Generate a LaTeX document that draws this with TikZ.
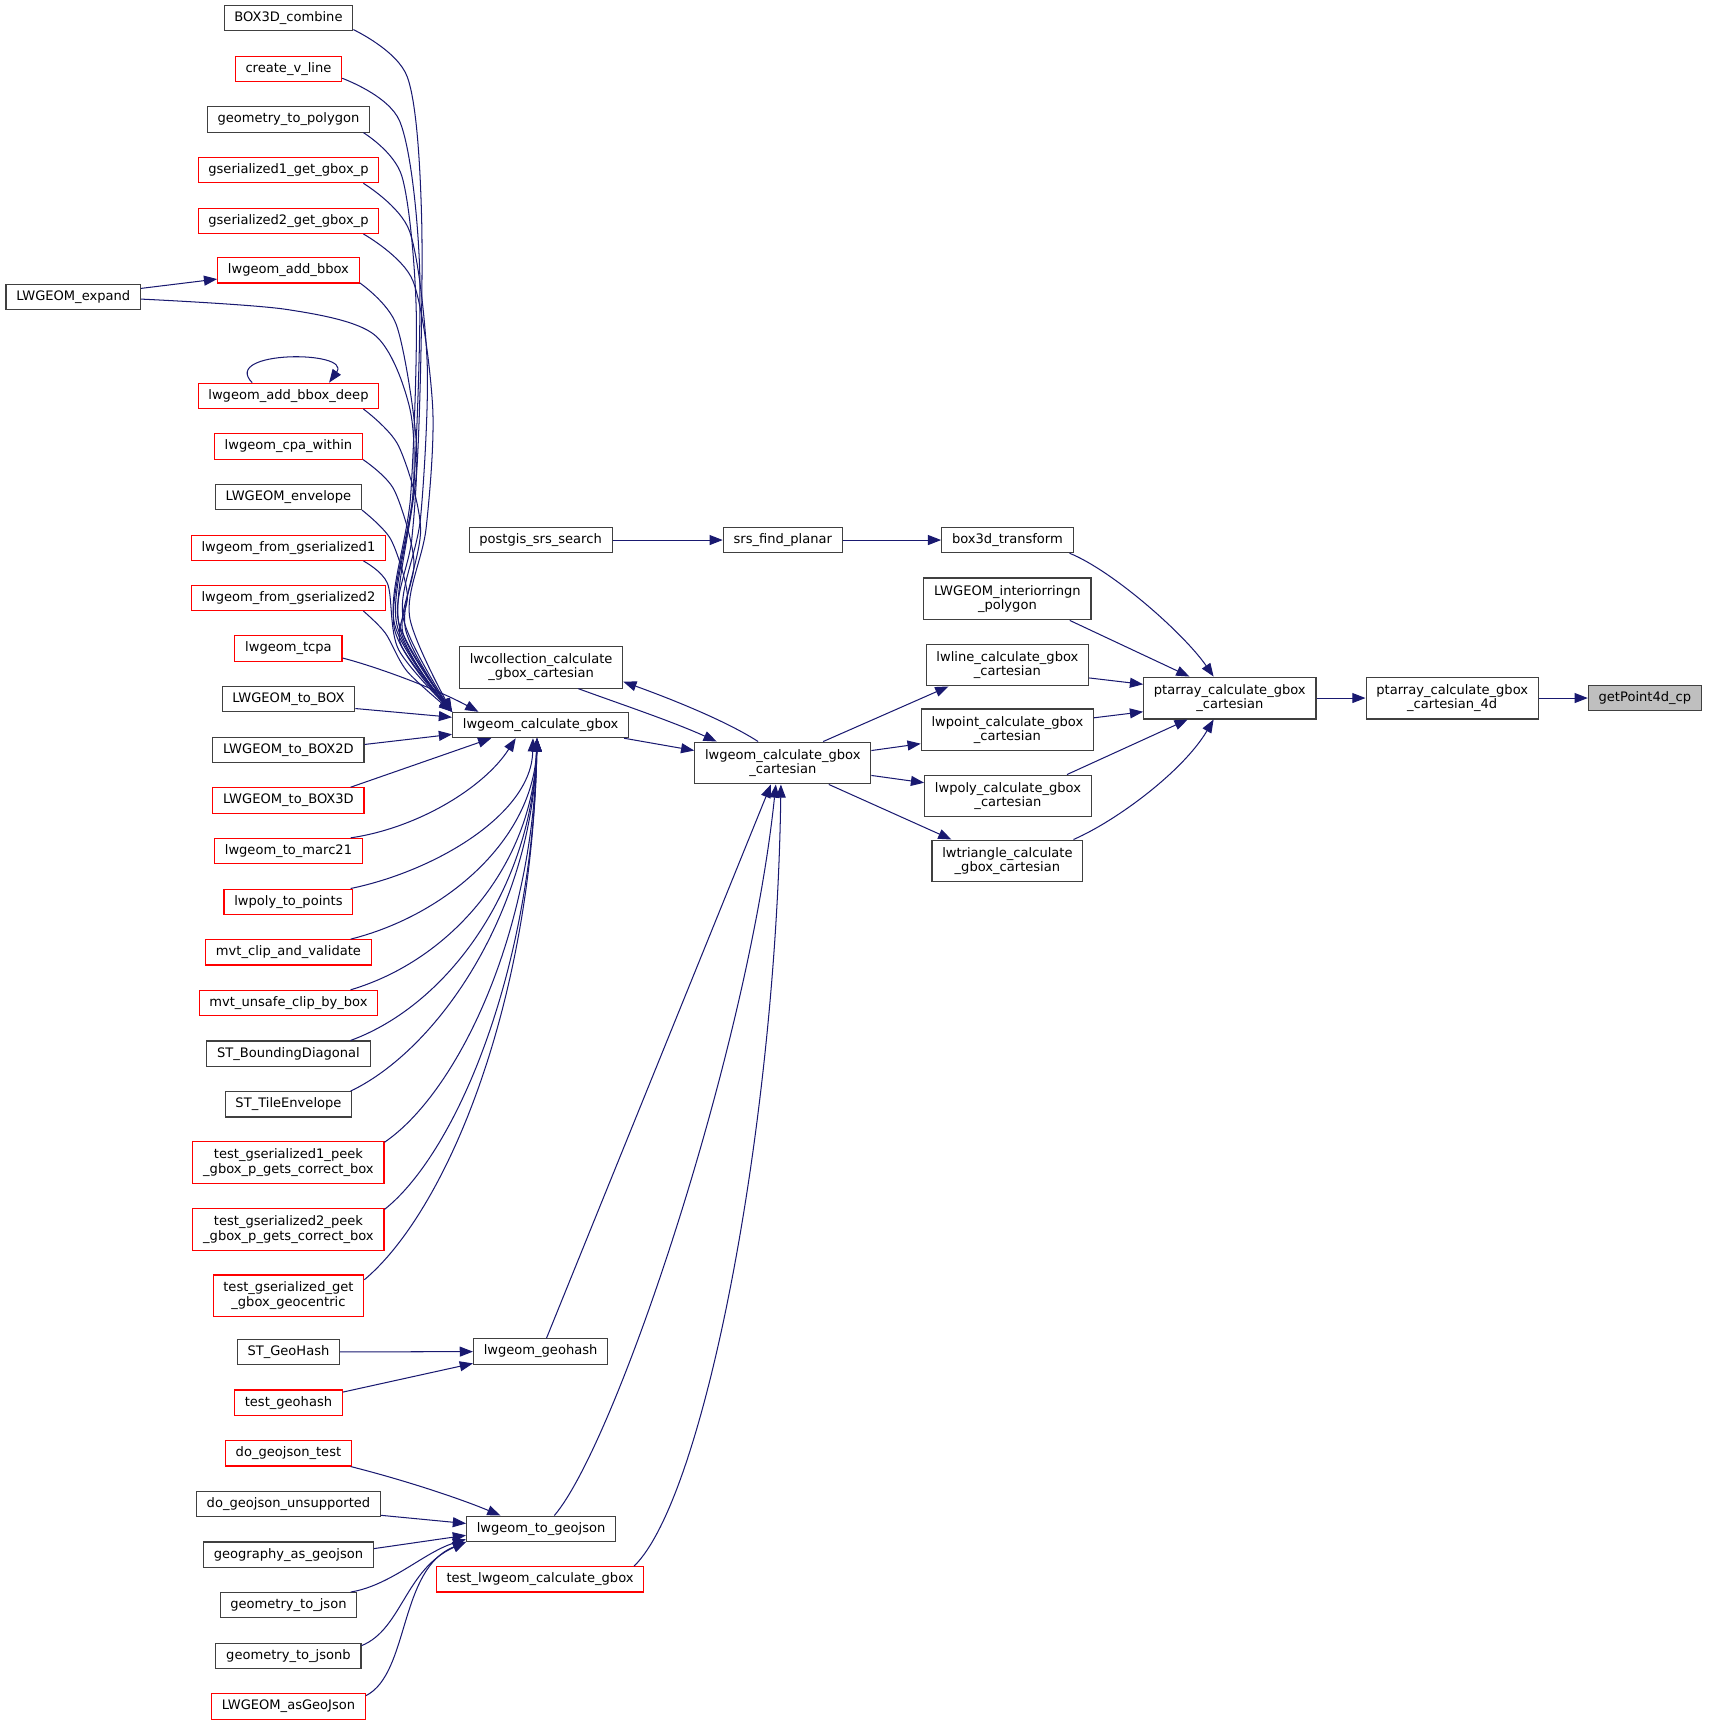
\documentclass[tikz,border=0pt]{standalone}
\usepackage{fontspec}
\setmainfont{DejaVu Sans}
\usetikzlibrary{arrows.meta}
\definecolor{edgeblue}{HTML}{191970}
\definecolor{boxgrey}{HTML}{404040}
\definecolor{curgrey}{HTML}{BFBFBF}
\definecolor{boxred}{HTML}{FF0000}
\begin{document}
\begin{tikzpicture}[x=0.75pt, y=-0.75pt, font=\fontsize{8.9}{10}\selectfont,
	fn/.style={draw=boxgrey, line width=0.75pt, fill=white, inner xsep=7pt, inner ysep=0pt, minimum height=17.25pt, align=center},
	fnred/.style={fn, draw=boxred},
	fntwo/.style={minimum height=28.5pt},
	call/.style={draw=edgeblue, line width=0.7pt, -{Triangle[length=9pt,width=6.8pt]}}]
	\useasboundingbox (0,0) rectangle (1552.2,1569.5);
	% callers, left column
	\node[fn] (expand) at (66.5,269.5) {LWGEOM\_expand};
	\node[fn] (box3dcomb) at (262,16.5) {BOX3D\_combine};
	\node[fnred] (createvline) at (262,62.5) {create\_v\_line};
	\node[fn] (geomtopoly) at (262,108.5) {geometry\_to\_polygon};
	\node[fnred] (gser1gbox) at (262,154.5) {gserialized1\_get\_gbox\_p};
	\node[fnred] (gser2gbox) at (262,200.5) {gserialized2\_get\_gbox\_p};
	\node[fnred] (addbbox) at (262,245.5) {lwgeom\_add\_bbox};
	\node[fnred] (addbboxdeep) at (262,359.5) {lwgeom\_add\_bbox\_deep};
	\node[fnred] (cpawithin) at (262,405.5) {lwgeom\_cpa\_within};
	\node[fn] (envelope) at (262,451.5) {LWGEOM\_envelope};
	\node[fnred] (fromgser1) at (262,497.5) {lwgeom\_from\_gserialized1};
	\node[fnred] (fromgser2) at (262,543) {lwgeom\_from\_gserialized2};
	\node[fnred] (tcpa) at (262,589) {lwgeom\_tcpa};
	\node[fn] (tobox) at (262,635) {LWGEOM\_to\_BOX};
	\node[fn] (tobox2d) at (262,681) {LWGEOM\_to\_BOX2D};
	\node[fnred] (tobox3d) at (262,727) {LWGEOM\_to\_BOX3D};
	\node[fnred] (tomarc) at (262,773) {lwgeom\_to\_marc21};
	\node[fnred] (polytopts) at (262,819) {lwpoly\_to\_points};
	\node[fnred] (mvtclip) at (262,865) {mvt\_clip\_and\_validate};
	\node[fnred] (mvtunsafe) at (262,911) {mvt\_unsafe\_clip\_by\_box};
	\node[fn] (stbounding) at (262,957) {ST\_BoundingDiagonal};
	\node[fn] (sttile) at (262,1003) {ST\_TileEnvelope};
	\node[fnred, fntwo] (testpeek1) at (262,1056) {test\_gserialized1\_peek\\\_gbox\_p\_gets\_correct\_box};
	\node[fnred, fntwo] (testpeek2) at (262,1117) {test\_gserialized2\_peek\\\_gbox\_p\_gets\_correct\_box};
	\node[fnred, fntwo] (testgetgeo) at (262,1177) {test\_gserialized\_get\\\_gbox\_geocentric};
	\node[fn] (stgeohash) at (262,1228) {ST\_GeoHash};
	\node[fnred] (testgeohash) at (262,1274) {test\_geohash};
	\node[fnred] (dogjtest) at (262,1320) {do\_geojson\_test};
	\node[fn] (dogjunsup) at (262,1366) {do\_geojson\_unsupported};
	\node[fn] (geogasgj) at (262,1412) {geography\_as\_geojson};
	\node[fn] (geomtojson) at (262,1458) {geometry\_to\_json};
	\node[fn] (geomtojsonb) at (262,1504) {geometry\_to\_jsonb};
	\node[fnred] (asgeojson) at (262,1550) {LWGEOM\_asGeoJson};
	% middle
	\node[fn] (srssearch) at (491,490.5) {postgis\_srs\_search};
	\node[fn, fntwo] (lwcoll) at (491.5,606) {lwcollection\_calculate\\\_gbox\_cartesian};
	\node[fn] (gbox) at (491,658.5) {lwgeom\_calculate\_gbox};
	\node[fn] (geohash) at (491,1227.5) {lwgeom\_geohash};
	\node[fn] (tojson) at (491.5,1388.5) {lwgeom\_to\_geojson};
	\node[fnred] (testlwgbox) at (490.5,1434.5) {test\_lwgeom\_calculate\_gbox};
	\node[fn] (srsplanar) at (711,490.5) {srs\_find\_planar};
	\node[fn, fntwo] (cart) at (711,693) {lwgeom\_calculate\_gbox\\\_cartesian};
	% right
	\node[fn] (box3dtr) at (915,490.5) {box3d\_transform};
	\node[fn, fntwo] (interior) at (915,544) {LWGEOM\_interiorringn\\\_polygon};
	\node[fn, fntwo] (lwline) at (915,604) {lwline\_calculate\_gbox\\\_cartesian};
	\node[fn, fntwo] (lwpoint) at (915,663) {lwpoint\_calculate\_gbox\\\_cartesian};
	\node[fn, fntwo] (lwpoly) at (915.5,723) {lwpoly\_calculate\_gbox\\\_cartesian};
	\node[fn, fntwo] (lwtri) at (915,782) {lwtriangle\_calculate\\\_gbox\_cartesian};
	\node[fn, fntwo] (ptarray) at (1117,634) {ptarray\_calculate\_gbox\\\_cartesian};
	\node[fn, fntwo] (pt4d) at (1319,634) {ptarray\_calculate\_gbox\\\_cartesian\_4d};
	\node[fn, fill=curgrey] (getpt) at (1494,634) {getPoint4d\_cp};
	% calls on the right
	\draw[call] (pt4d) -- (getpt);
	\draw[call] (ptarray) -- (pt4d);
	\draw[call] (srssearch) -- (srsplanar);
	\draw[call] (srsplanar) -- (box3dtr);
	\draw[call] (box3dtr.-12) .. controls (1010,518) and (1075,575) .. (ptarray.127);
	\draw[call] (interior.-19) -- (ptarray.152);
	\draw[call] (lwline.-9) -- (ptarray.171);
	\draw[call] (lwpoint.8) -- (ptarray.189);
	\draw[call] (lwpoly.20) -- (ptarray.207);
	\draw[call] (lwtri.18) .. controls (1015,745) and (1075,700) .. (ptarray.233);
	\draw[call] (cart.28) -- (lwline.200);
	\draw[call] (cart.8) -- (lwpoint.189);
	\draw[call] (cart.-8) -- (lwpoly.171);
	\draw[call] (cart.-25) -- (lwtri.159);
	\draw[call] (cart.139) .. controls (660,655) and (610,635) .. (lwcoll.-10);
	\draw[call] (lwcoll.-30) .. controls (565,640) and (610,655) .. (cart.162);
	\draw[call] (gbox.-9) -- (cart.172);
	\draw[call] (geohash.66) -- (cart.241);
	\draw[call] (tojson.45) .. controls (560,1310) and (680,950) .. (cart.252);
	\draw[call] (testlwgbox.8) .. controls (640,1360) and (705,1020) .. (cart.265);
	% calls at the bottom left
	\draw[call] (stgeohash) -- (geohash);
	\draw[call] (testgeohash.11) -- (geohash.190);
	\draw[call] (dogjtest.-12) .. controls (370,1345) and (420,1362) .. (tojson.162);
	\draw[call] (dogjunsup.-7) -- (tojson.176);
	\draw[call] (geogasgj.4) -- (tojson.185);
	\draw[call] (geomtojson.12) .. controls (355,1440) and (385,1410) .. (tojson.188);
	\draw[call] (geomtojsonb.8) .. controls (365,1480) and (368,1425) .. (tojson.south west);
	\draw[call] (asgeojson.8) .. controls (372,1520) and (362,1425) .. (tojson.south west);
	% calls into lwgeom_calculate_gbox
	\draw[call] (expand.7) -- (addbbox.187);
	\draw[call] (addbboxdeep.160) .. controls (200,318) and (320,318) .. (addbboxdeep.18);
	\draw[call] plot[smooth] coordinates {(expand.-2) (260,281) (340,304) (372,370) (375,450) (358,570) (gbox.north west)};
	\draw[call] plot[smooth] coordinates {(box3dcomb.-10) (370,70) (383,200) (379,420) (362,565) (gbox.north west)};
	\draw[call] plot[smooth] coordinates {(createvline.-10) (363,110) (381,240) (376,440) (360,565) (gbox.north west)};
	\draw[call] plot[smooth] coordinates {(geomtopoly.-10) (365,160) (378,280) (373,450) (358,565) (gbox.north west)};
	\draw[call] plot[smooth] coordinates {(gser1gbox.-10) (372,210) (388,330) (382,470) (366,560) (gbox.north west)};
	\draw[call] plot[smooth] coordinates {(gser2gbox.-10) (375,255) (393,370) (387,480) (372,560) (gbox.north west)};
	\draw[call] plot[smooth] coordinates {(addbbox.-10) (360,295) (378,400) (374,490) (362,565) (gbox.north west)};
	\draw[call] plot[smooth] coordinates {(addbboxdeep.-10) (362,405) (382,480) (368,570) (gbox.north west)};
	\draw[call] plot[smooth] coordinates {(cpawithin.-10) (358,445) (376,510) (366,575) (gbox.north west)};
	\draw[call] plot[smooth] coordinates {(envelope.-10) (355,490) (370,540) (364,585) (gbox.north west)};
	\draw[call] plot[smooth] coordinates {(fromgser1.-10) (352,530) (362,590) (gbox.north west)};
	\draw[call] plot[smooth] coordinates {(fromgser2.-10) (350,575) (370,610) (gbox.north west)};
	\draw[call] (tcpa.-10) .. controls (340,605) and (395,625) .. (gbox.168);
	\draw[call] (tobox.-8) -- (gbox.175);
	\draw[call] (tobox2d.4) -- (gbox.186);
	\draw[call] (tobox3d.12) -- (gbox.195);
	\draw[call] (tomarc.12) .. controls (380,752) and (440,715) .. (gbox.208);
	\draw[call] (polytopts.12) .. controls (396,791) and (483,739) .. (gbox.240);
	\draw[call] (mvtclip.12) .. controls (406,831) and (484,762) .. (gbox.255);
	\draw[call] (mvtunsafe.12) .. controls (410,872) and (484,785) .. (gbox.255);
	\draw[call] (stbounding.12) .. controls (406,913) and (483,808) .. (gbox.255);
	\draw[call] (sttile.12) .. controls (396,954) and (483,831) .. (gbox.255);
	\draw[call] (testpeek1.12) .. controls (413,994) and (484,854) .. (gbox.255);
	\draw[call] (testpeek2.12) .. controls (413,1048) and (484,884) .. (gbox.255);
	\draw[call] (testgetgeo.12) .. controls (405,1100) and (483,914) .. (gbox.255);
\end{tikzpicture}
\end{document}
